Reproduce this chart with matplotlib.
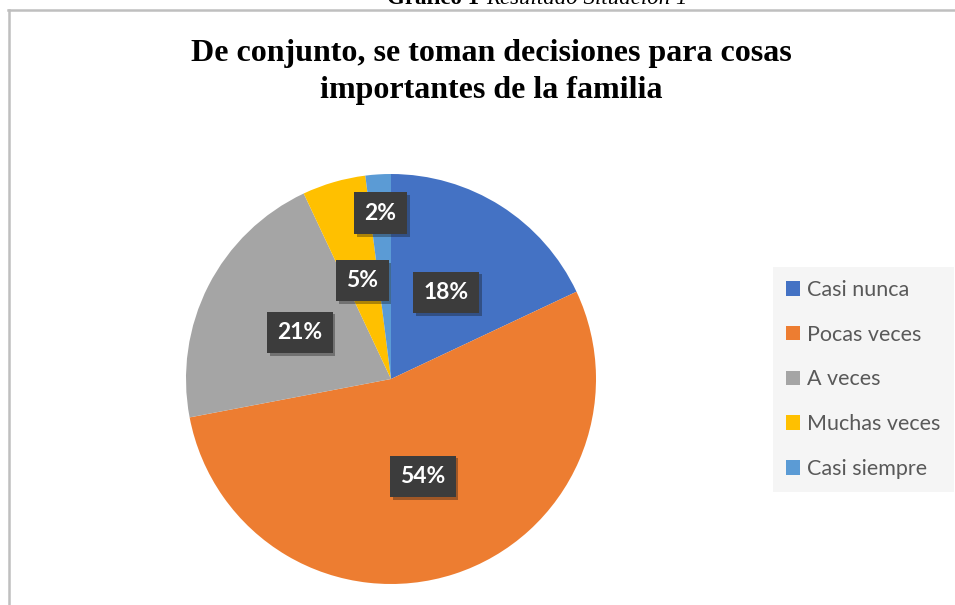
import matplotlib.pyplot as plt
import matplotlib.patheffects as pe
from matplotlib.lines import Line2D
import numpy as np

categorias = ['Casi nunca', 'Pocas veces', 'A veces', 'Muchas veces', 'Casi siempre']
porcentajes = [18, 54, 21, 5, 2]
colores = ['#4472C4', '#ED7D31', '#A5A5A5', '#FFC000', '#5B9BD5']
titulo = 'De conjunto, se toman decisiones para cosas\nimportantes de la familia'

W, H = 955, 605
fig = plt.figure(figsize=(W / 100, H / 100), dpi=100)

# marco gris (recortado a la derecha y abajo)
fig.add_artist(Line2D([8 / W, 1], [1 - 9.5 / H, 1 - 9.5 / H], color='#BFBFBF', lw=1.8, transform=fig.transFigure))
fig.add_artist(Line2D([8.5 / W, 8.5 / W], [0, 1 - 9.5 / H], color='#BFBFBF', lw=1.8, transform=fig.transFigure))

# leyenda del gráfico (cortada arriba)
fig.text(479 / W, 1 - 3.5 / H, 'Gráfico 1', fontsize=16.5, fontweight='bold', family='Liberation Serif',
         ha='right', va='baseline')
fig.text(486 / W, 1 - 3.5 / H, 'Resultado Situación 1', fontsize=16.5, style='italic', family='Liberation Serif',
         ha='left', va='baseline')

fig.text(491 / W, 1 - 72 / H, titulo, fontsize=23, fontweight='bold', family='Liberation Serif',
         ha='center', va='center', linespacing=1.35)

ax = fig.add_axes([186 / W, 21 / H, 410 / W, 410 / H])
wedges, textos, autotextos = ax.pie(porcentajes, colors=colores, startangle=90, counterclock=False,
                                    autopct='%1.0f%%', pctdistance=0.5, radius=1,
                                    wedgeprops=dict(linewidth=0))
ax.set_xlim(-1, 1)
ax.set_ylim(-1, 1)
ax.axis('off')

for i, t in enumerate(autotextos):
    t.set_color('white')
    t.set_fontsize(16.5)
    t.set_fontweight('bold')
    t.set_family('Lato')
    t.set_bbox(dict(boxstyle='square,pad=0.45', facecolor='#3C3C3C', edgecolor='none'))
    t.get_bbox_patch().set_path_effects([pe.SimplePatchShadow(offset=(2, -2), alpha=0.35), pe.Normal()])
# la etiqueta del 2% va más afuera
x, y = autotextos[4].get_position()
autotextos[4].set_position((x * 0.81 / 0.5, y * 0.81 / 0.5))

leg = fig.legend(wedges, categorias, loc='upper left', bbox_to_anchor=(773 / W, 1 - 267 / H),
                 prop={'family': 'Lato', 'size': 15.5}, labelcolor='#595959', frameon=True,
                 fancybox=False, facecolor='#F5F5F5', edgecolor='none', framealpha=1,
                 handlelength=0.65, handleheight=0.65, handletextpad=0.35, labelspacing=1.15,
                 borderpad=0.6, borderaxespad=0)

plt.savefig('out.png', dpi=100)
